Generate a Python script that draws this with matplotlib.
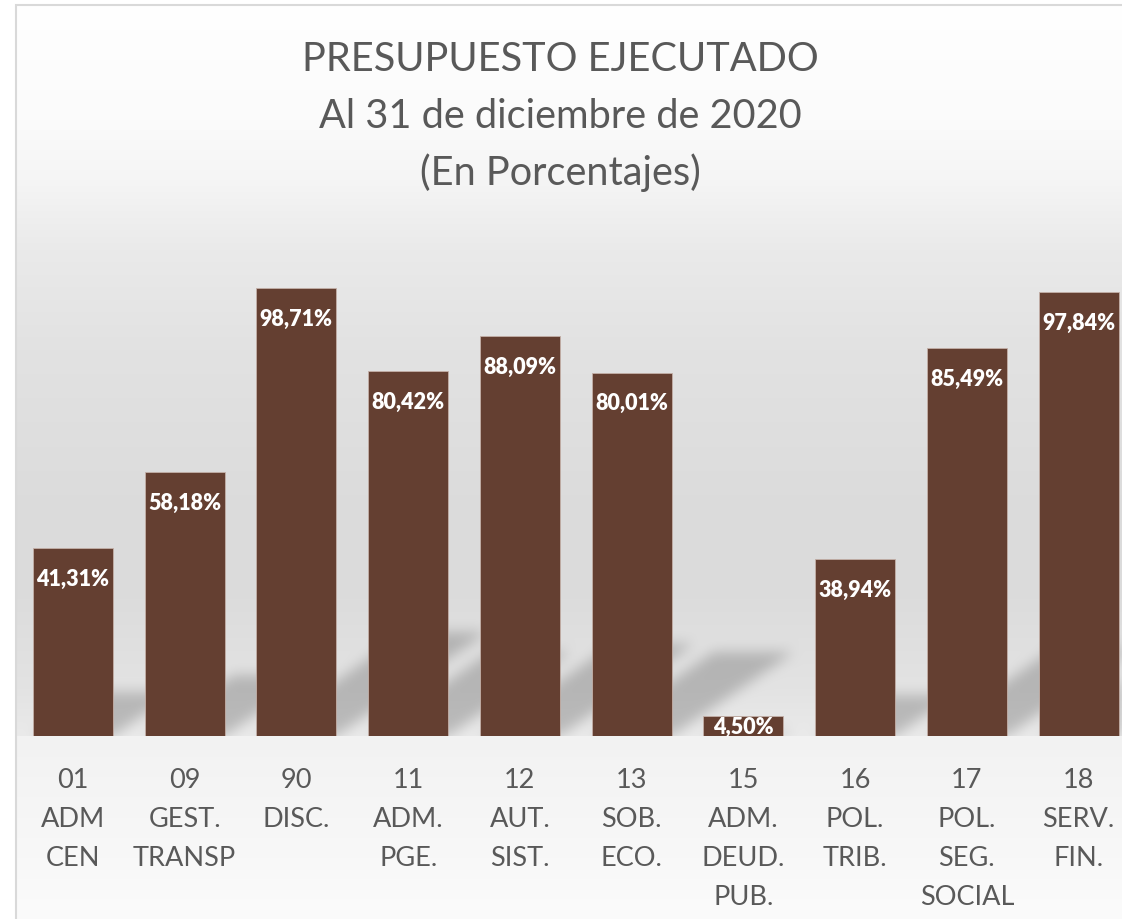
import numpy as np
import matplotlib.pyplot as plt
from matplotlib.patches import Rectangle

plt.rcParams['font.family'] = ['Lato', 'DejaVu Sans']

codes = ["01", "09", "90", "11", "12", "13", "15", "16", "17", "18"]
names = ["ADM\nCEN", "GEST.\nTRANSP", "DISC.", "ADM.\nPGE.", "AUT.\nSIST.",
         "SOB.\nECO.", "ADM.\nDEUD.\nPUB.", "POL.\nTRIB.", "POL.\nSEG.\nSOCIAL",
         "SERV.\nFIN."]
executed = [41.31, 58.18, 98.71, 80.42, 88.09, 80.01, 4.50, 38.94, 85.49, 97.84]

title_lines = ["PRESUPUESTO EJECUTADO", "Al 31 de diciembre de 2020", "(En Porcentajes)"]

bar_color = "#643f31"
text_gray = "#595959"

W, H = 1122, 920
fig = plt.figure(figsize=(W / 100, H / 100), dpi=100)

# plot area: baseline at y=737 px, one category = 111.75 px
ax = fig.add_axes([17 / W, 183 / H, 1105 / W, 497 / H])
ax.set_zorder(2)
ax.set_facecolor("none")
ax.set_xlim(-0.5, -0.5 + 1105 / 111.75)
ax.set_ylim(0, 497 / 4.539)
for s in ax.spines.values():
    s.set_visible(False)
ax.set_yticks([])

bar_w = 0.716
x = np.arange(len(executed))
ax.bar(x, executed, width=bar_w, color=bar_color, edgecolor="#c4b0a8",
       linewidth=0.6, zorder=3)

ax.set_xticks(x, [f"{c}\n{n}" for c, n in zip(codes, names)])
ax.tick_params(axis="x", length=0, pad=22, labelsize=19.5, labelcolor=text_gray)
for t in ax.get_xticklabels():
    t.set_linespacing(1.7)

# data labels
ppu = ax.transData.transform((0, 1))[1] - ax.transData.transform((0, 0))[1]
for i, v in enumerate(executed):
    lab = f"{v:.2f}%".replace(".", ",")
    if v * ppu > 50:
        xy, off = (i, v), -26.3
    else:
        xy, off = (i, v / 2), -5.4
    ax.annotate(lab, xy, xytext=(0, off), textcoords="offset points",
                ha="center", va="baseline", color="white",
                fontsize=15.5, fontweight="heavy", zorder=5)

# background: vertical gradient + soft perspective shadows
rows = np.arange(H)
col = np.interp(rows, [0, 120, 180, 250, 350, 520, 600, 690, 736],
                [255, 251, 245, 234, 226, 219, 220, 227, 234])
floor = np.interp(rows, [737, 920], [242, 251])
base_row = 737
col = np.where(rows < base_row, col, floor) / 255.0
bg = np.repeat(col[:, None], W, axis=1)

mask = np.zeros((H, W))
for i, v in enumerate(executed):
    x0, yb = ax.transData.transform((i - bar_w / 2, 0))
    x1, yt = ax.transData.transform((i + bar_w / 2, v))
    rb = H - yb
    sh = 0.23 * (yt - yb)
    dx = 1.45 * sh
    for r in range(int(rb - sh), int(rb)):
        t = (rb - r) / sh
        a, b = int(x0 + t * dx), int(x1 + t * dx)
        mask[r, max(a, 0):min(b, W)] = 1.0


def blur(a, r):
    k = np.ones(2 * r + 1) / (2 * r + 1)
    a = np.apply_along_axis(lambda m: np.convolve(m, k, mode="same"), 0, a)
    a = np.apply_along_axis(lambda m: np.convolve(m, k, mode="same"), 1, a)
    return a


mask = blur(blur(mask, 7), 7)
mask[base_row:, :] = 0
bg = bg * (1 - 0.2 * mask)
bg[:7, :] = 1.0
bg[:, :17] = 1.0
fig.figimage(np.dstack([bg, bg, bg]), xo=0, yo=0, origin="upper", zorder=-10)

fig.add_artist(Rectangle((16 / W, -0.1), 1.2, (H - 6) / H + 0.1,
                         transform=fig.transFigure, fill=False,
                         edgecolor="#d9d9d9", linewidth=1.5))

for line, base in zip(title_lines, [71, 128, 185]):
    fig.text(560 / W, 1 - base / H, line, ha="center", va="baseline",
             fontsize=28.6, color=text_gray)

fig.savefig("out.png", dpi=100)
